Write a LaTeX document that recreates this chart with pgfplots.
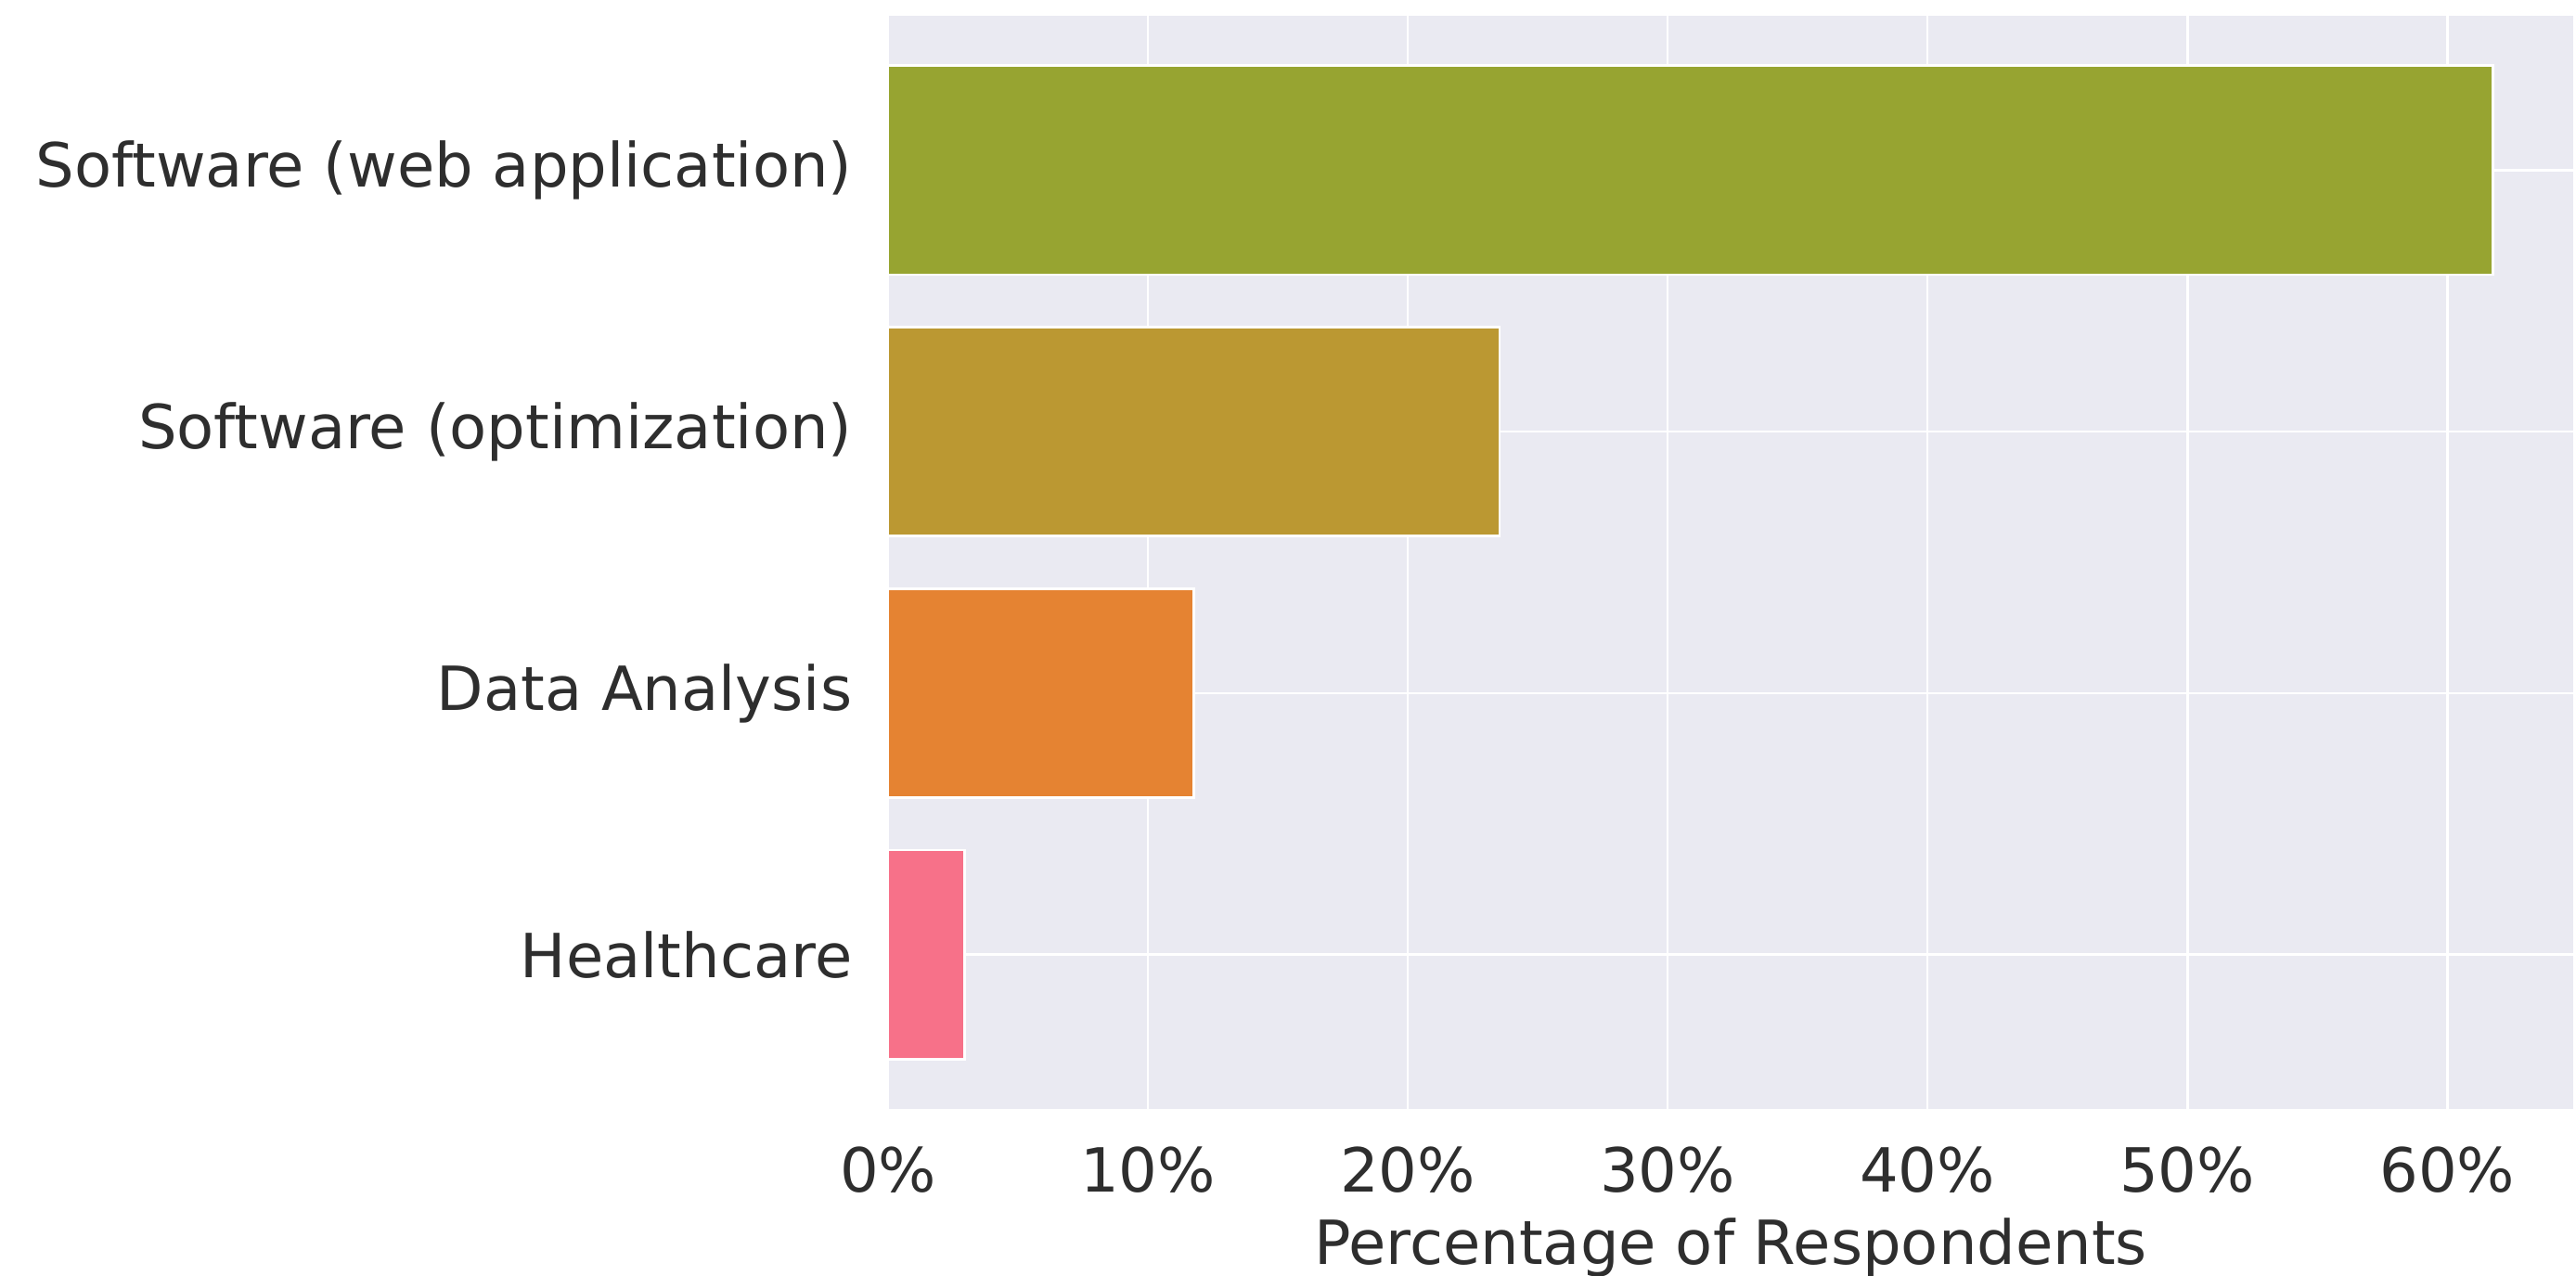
\documentclass[border=0pt]{standalone}
\usepackage{pgfplots}
\pgfplotsset{compat=1.18}
\usepackage{fontspec}
\setmainfont{DejaVu Sans}

\definecolor{bgc}{HTML}{EAEAF2}
\definecolor{txt}{HTML}{2E2E2E}
\definecolor{cweb}{HTML}{97A431}
\definecolor{copt}{HTML}{BB9832}
\definecolor{cdata}{HTML}{E58332}
\definecolor{chealth}{HTML}{F77189}

\begin{document}
\begin{tikzpicture}[x=1bp,y=1bp]
\begin{axis}[
    scale only axis,
    width=435.8bp, height=282.7bp,
    xbar, bar shift=0pt, bar width=0.8,
    xmin=0, xmax=64.85,
    ymin=-0.59, ymax=3.59,
    y dir=reverse,
    ytick={0,1,2,3},
    yticklabels={Software (web application),Software (optimization),Data Analysis,Healthcare},
    xtick={0,10,20,30,40,50,60},
    xticklabel={\pgfmathprintnumber{\tick}\%},
    /pgf/number format/assume math mode=true,
    major tick length=0pt,
    axis line style={draw=none},
    axis background/.style={fill=bgc},
    grid=major,
    major grid style={white, line width=0.65bp},
    ticklabel style={font=\fontsize{15.8}{18}\selectfont, text=txt, inner sep=0pt},
    y tick label style={anchor=east, xshift=-9.1bp},
    x tick label style={anchor=north, yshift=-9.6bp},
    xlabel={Percentage of Respondents},
    xlabel style={font=\fontsize{15.8}{18}\selectfont, text=txt, inner sep=0pt,
        at={(axis description cs:0.5,0)}, anchor=base, yshift=-40.2bp},
    every axis plot/.append style={draw=white, line width=0.65bp},
]
\addplot[fill=cweb] coordinates {(61.76,0)};
\addplot[fill=copt] coordinates {(23.53,1)};
\addplot[fill=cdata] coordinates {(11.76,2)};
\addplot[fill=chealth] coordinates {(2.94,3)};
\end{axis}
\pgfresetboundingbox
\path (current axis.south west) ++(-229.68bp,-43.2bp) coordinate (bbsw);
\path (current axis.north east) ++(0.72bp,4.08bp) coordinate (bbne);
\useasboundingbox (bbsw) rectangle (bbne);
\end{tikzpicture}
\end{document}
